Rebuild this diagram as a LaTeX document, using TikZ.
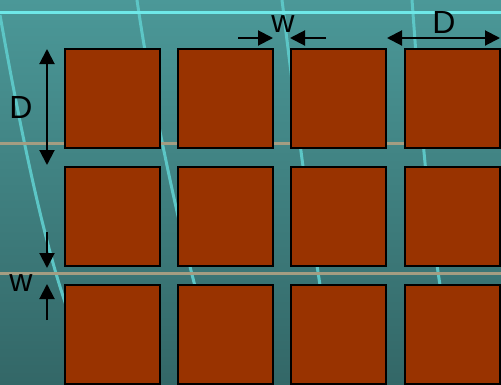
\documentclass[tikz,border=0pt]{standalone}
\usepackage{fontspec}
\setmainfont{Liberation Sans}
\usetikzlibrary{arrows.meta}
\definecolor{brick}{HTML}{993300}
\definecolor{seatop}{HTML}{4B9898}
\definecolor{seabot}{HTML}{336767}
\definecolor{foam}{HTML}{6EE8E8}
\definecolor{streak}{HTML}{5CC6C6}
\definecolor{sand}{HTML}{A39D82}

\begin{document}
\begin{tikzpicture}[x=1pt,y=-1pt,>={Triangle[length=15pt,width=15pt]},
    cell/.style={draw=black,line width=2pt,fill=brick,minimum width=95pt,minimum height=99pt,inner sep=0pt},
    dim label/.style={inner sep=0pt,font=\fontsize{32}{38}\selectfont},
    dim line/.style={line width=2pt}]
  \useasboundingbox (0,0) rectangle (501,384);
  % background
  \shade[top color=seatop,bottom color=seabot] (0,0) rectangle (501,384);
  \begin{scope}
    \clip (0,0) rectangle (501,384);
    \draw[streak,line width=3pt] (0,15) .. controls (15,100) and (40,230) .. (66,305);
    \draw[streak,line width=3pt] (137,0) .. controls (150,90) and (175,210) .. (196,290);
    \draw[streak,line width=3pt] (282,0) .. controls (292,80) and (305,190) .. (320,285);
    \draw[streak,line width=3pt] (412,0) .. controls (418,80) and (425,190) .. (440,285);
  \end{scope}
  \draw[sand,line width=3pt] (0,143) -- (501,143);
  \draw[sand,line width=3pt] (0,273) -- (501,273);
  \draw[foam,line width=3pt] (0,12) -- (501,12);

  % cells
  \foreach \r in {1,2,3}
    \foreach \c in {1,...,4}
      \node[cell] (s\r\c) at ({112.5+113.2*(\c-1)},{98+118*(\r-1)}) {};

  % D, vertical
  \coordinate (dvtop) at (47,49);
  \coordinate (dvbot) at (47,165);
  \node[dim label] (dv) at (21,107) {D};
  \draw[dim line,<->] (dvtop) -- (dvbot);

  % D, horizontal
  \coordinate (dhl) at (387,38);
  \coordinate (dhr) at (500,38);
  \node[dim label] (dh) at (444,22) {D};
  \draw[dim line,<->] (dhl) -- (dhr);

  % w, top
  \coordinate (wa) at (238,38);
  \coordinate (wb) at (273,38);
  \coordinate (wc) at (326,38);
  \coordinate (wd) at (290,38);
  \node[dim label] (wt) at (283,24) {w};
  \draw[dim line,->] (wa) -- (wb);
  \draw[dim line,->] (wc) -- (wd);

  % w, left
  \coordinate (we) at (47,232);
  \coordinate (wf) at (47,268);
  \coordinate (wg) at (47,320);
  \coordinate (wh) at (47,284);
  \node[dim label] (wl) at (21,283) {w};
  \draw[dim line,->] (we) -- (wf);
  \draw[dim line,->] (wg) -- (wh);
\end{tikzpicture}
\end{document}
